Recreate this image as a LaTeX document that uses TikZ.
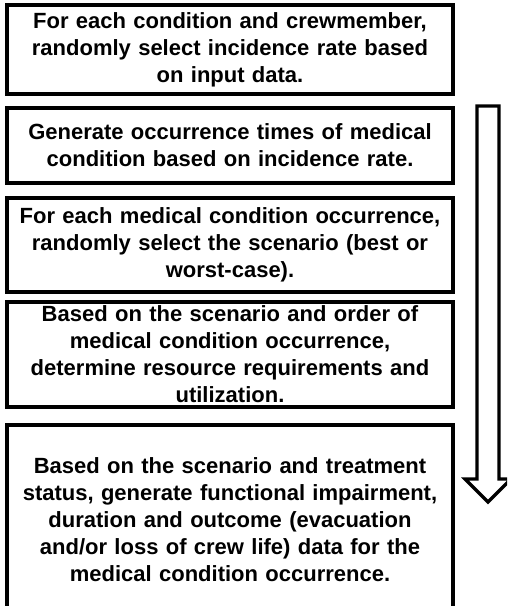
\documentclass[tikz,border=0pt]{standalone}
\usepackage{fontspec}
\setmainfont{Liberation Sans}
\usepackage{tikz}
\usetikzlibrary{positioning}

\begin{document}
\begin{tikzpicture}[x=1pt,y=-1pt,
  stepbox/.style={draw,line width=3.2pt,minimum width=446pt,text width=442pt,
    align=center,inner sep=0pt,outer sep=0pt,
    font=\bfseries\fontsize{22}{27}\selectfont}]
  \useasboundingbox (0,0) rectangle (507,606);
  \clip (0,0) rectangle (507,606);

  % The five simulation steps, top to bottom.
  \node[stepbox,minimum height=89pt,anchor=north west] (sel) at (7,5)
    {For each condition and crewmember,\\
     randomly select incidence rate based\\
     on input data.};
  \node[stepbox,minimum height=75pt,below=14pt of sel] (gen)
    {Generate occurrence times of medical\\
     condition based on incidence rate.};
  \node[stepbox,minimum height=94pt,below=15pt of gen] (scen)
    {For each medical condition occurrence,\\
     randomly select the scenario (best or\\
     worst-case).};
  \node[stepbox,minimum height=105pt,below=10pt of scen] (res)
    {Based on the scenario and order of\\
     medical condition occurrence,\\
     determine resource requirements and\\
     utilization.};
  % last box runs past the lower edge of the picture
  \node[stepbox,minimum height=190pt,below=18pt of res] (out)
    {Based on the scenario and treatment\\
     status, generate functional impairment,\\
     duration and outcome (evacuation\\
     and/or loss of crew life) data for the\\
     medical condition occurrence.};

  % Hollow block arrow for the order of the steps.
  \draw[line width=3.2pt,line join=miter,fill=white]
    (477,106) -- (499,106) -- (499,479) -- (511,479) -- (488,502)
    -- (465,479) -- (477,479) -- cycle;
\end{tikzpicture}
\end{document}
